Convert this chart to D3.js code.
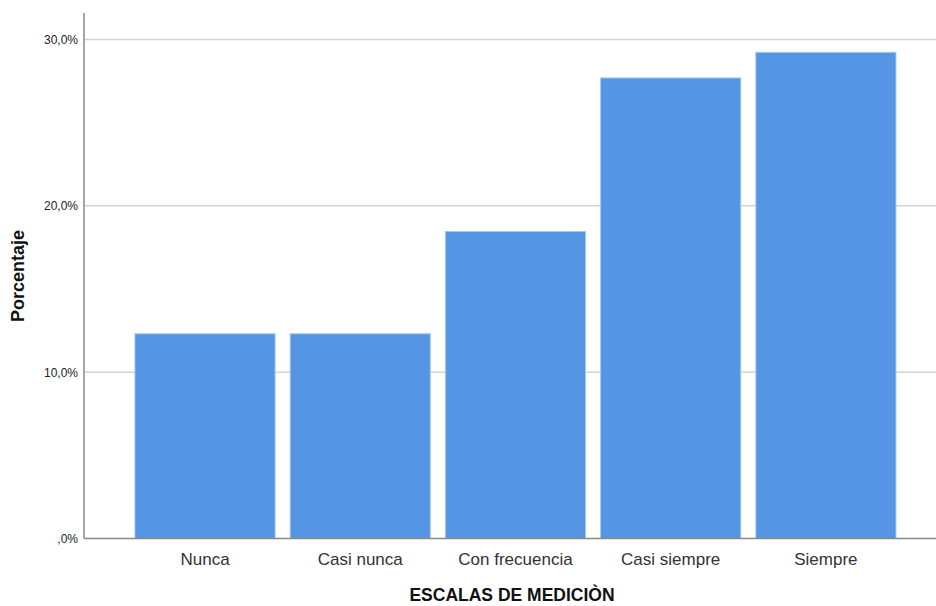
<!DOCTYPE html>
<html>
<head>
<meta charset="utf-8">
<script src="https://cdn.jsdelivr.net/npm/d3@7"></script>
<style>
  body { margin: 0; background: #fff; }
  svg { display: block; font-family: "Liberation Sans", Arial, sans-serif; }
</style>
</head>
<body>
<svg id="chart" width="936" height="606"></svg>
<script>
const categories = ["Nunca", "Casi nunca", "Con frecuencia", "Casi siempre", "Siempre"];
const percentages = [12.31, 12.31, 18.46, 27.69, 29.23];
const yTicks = [0, 10, 20, 30];
const yTickLabels = [",0%", "10,0%", "20,0%", "30,0%"];
const xTitle = "ESCALAS DE MEDICIÒN";
const yTitle = "Porcentaje";

(function () {
const svg = d3.select("#chart");
const pLeft = 84, pRight = 936, pTop = 13, pBottom = 538.5;

const y = d3.scaleLinear().domain([0, 30]).range([pBottom, 39.5]);
const x = d3.scaleBand().domain(categories).range([pLeft, pRight])
  .paddingInner(0.097).paddingOuter(0.293).align(0.56);

// gridlines
svg.append("g").selectAll("line").data(yTicks.filter(d => d > 0)).join("line")
  .attr("x1", pLeft).attr("x2", pRight)
  .attr("y1", d => y(d)).attr("y2", d => y(d))
  .attr("stroke", "#d2d2d2").attr("stroke-width", 1.5);

// bars
svg.append("g").selectAll("rect").data(categories).join("rect")
  .attr("x", d => x(d))
  .attr("y", (d, i) => y(percentages[i]))
  .attr("width", x.bandwidth())
  .attr("height", (d, i) => pBottom - y(percentages[i]))
  .attr("fill", "#5596e4")
  .attr("stroke", "#a9c8f0").attr("stroke-width", 1);

// y axis
const yAxis = d3.axisLeft(y).tickValues(yTicks)
  .tickFormat((d, i) => yTickLabels[i]).tickSize(0).tickPadding(6);
const gy = svg.append("g").attr("transform", `translate(${pLeft},0)`).call(yAxis);
gy.select(".domain").remove();
gy.selectAll("text").attr("font-size", 12).attr("fill", "#222")
  .attr("font-family", "Liberation Sans, Arial, sans-serif");
svg.append("line").attr("x1", pLeft).attr("x2", pLeft).attr("y1", pTop).attr("y2", pBottom)
  .attr("stroke", "#888").attr("stroke-width", 1.5);

// x axis
const xAxis = d3.axisBottom(x).tickSize(0).tickPadding(14.5);
const gx = svg.append("g").attr("transform", `translate(0,${pBottom})`).call(xAxis);
gx.select(".domain").remove();
gx.selectAll("text").attr("font-size", 17).attr("fill", "#333")
  .attr("font-family", "Liberation Sans, Arial, sans-serif");
svg.append("line").attr("x1", pLeft).attr("x2", pRight).attr("y1", pBottom).attr("y2", pBottom)
  .attr("stroke", "#888").attr("stroke-width", 1.5);

// titles
svg.append("text").attr("x", 512).attr("y", 601).attr("text-anchor", "middle")
  .attr("font-size", 17.5).attr("font-weight", "bold").attr("fill", "#111").text(xTitle);
svg.append("text").attr("transform", "translate(23.5,276) rotate(-90)").attr("text-anchor", "middle")
  .attr("font-size", 18).attr("font-weight", "bold").attr("fill", "#111").text(yTitle);
})();
</script>
</body>
</html>
